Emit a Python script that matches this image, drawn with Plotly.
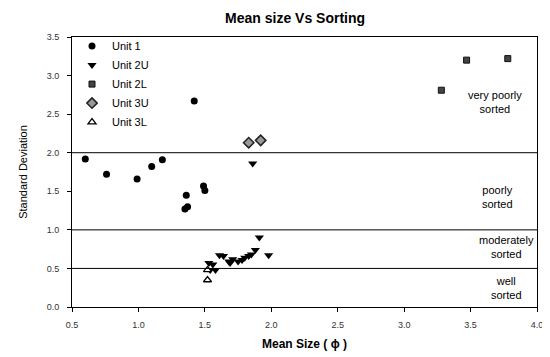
import plotly.graph_objects as go

# Data
unit1_x = [0.60, 0.76, 0.99, 1.10, 1.18, 1.42, 1.36, 1.35, 1.37, 1.49, 1.50]
unit1_y = [1.92, 1.72, 1.66, 1.82, 1.91, 2.67, 1.45, 1.27, 1.30, 1.57, 1.51]

unit2u_x = [1.53, 1.56, 1.58, 1.54, 1.61, 1.64, 1.68, 1.69, 1.71, 1.75, 1.78, 1.80, 1.83, 1.85, 1.88, 1.91, 1.98, 1.86]
unit2u_y = [0.57, 0.55, 0.48, 0.48, 0.67, 0.66, 0.59, 0.57, 0.62, 0.59, 0.61, 0.64, 0.66, 0.68, 0.74, 0.90, 0.67, 1.86]

unit2l_x = [3.28, 3.47, 3.78]
unit2l_y = [2.81, 3.20, 3.22]

unit3u_x = [1.83, 1.92]
unit3u_y = [2.13, 2.16]

unit3l_x = [1.52, 1.52]
unit3l_y = [0.48, 0.35]

class_limits = [0.5, 1.0, 2.0]
class_labels = ["very poorly<br>sorted", "poorly<br>sorted", "moderately<br>sorted", "well<br>sorted"]
class_label_y = [2.66, 1.43, 0.78, 0.25]
class_label_x = [0.91, 0.915, 0.935, 0.935]

fig = go.Figure()
fig.add_trace(go.Scatter(x=unit1_x, y=unit1_y, mode="markers", name="Unit 1",
                         marker=dict(symbol="circle", size=7, color="black")))
fig.add_trace(go.Scatter(x=unit2u_x, y=unit2u_y, mode="markers", name="Unit 2U",
                         marker=dict(symbol="triangle-down", size=8, color="black")))
fig.add_trace(go.Scatter(x=unit2l_x, y=unit2l_y, mode="markers", name="Unit 2L",
                         marker=dict(symbol="square", size=6, color="#444444",
                                     line=dict(color="#111111", width=1))))
fig.add_trace(go.Scatter(x=unit3u_x, y=unit3u_y, mode="markers", name="Unit 3U",
                         marker=dict(symbol="diamond", size=8, color="#999999",
                                     line=dict(color="#222222", width=1.5))))
fig.add_trace(go.Scatter(x=unit3l_x, y=unit3l_y, mode="markers", name="Unit 3L",
                         marker=dict(symbol="triangle-up", size=7, color="white",
                                     line=dict(color="black", width=1.3))))

for yv in class_limits:
    fig.add_shape(type="line", xref="paper", x0=0, x1=1, yref="y", y0=yv, y1=yv,
                  line=dict(color="black", width=1))

for lab, xv, yv in zip(class_labels, class_label_x, class_label_y):
    fig.add_annotation(x=xv, xref="paper", y=yv, yref="y", text=lab, showarrow=False,
                       font=dict(family="Liberation Sans, Arial", size=11, color="black"),
                       align="center", xanchor="center", yanchor="middle")

# the page body adds an 8px margin; margins below compensate for it
fig.update_layout(
    width=550, height=357,
    margin=dict(l=64, r=21, t=29, b=58),
    paper_bgcolor="white", plot_bgcolor="white",
    title=dict(text="<b>Mean size Vs Sorting</b>", x=0.522, xanchor="center", y=0.972, yanchor="middle",
               font=dict(family="Liberation Sans, Arial", size=14, color="black")),
    font=dict(family="Liberation Sans, Arial", color="black"),
    legend=dict(x=0.0, y=1.02, xanchor="left", yanchor="top", bgcolor="rgba(0,0,0,0)",
                font=dict(size=11, color="black"), tracegroupgap=0, itemsizing="trace"),
    showlegend=True,
)
fig.update_xaxes(range=[0.5, 4.0], dtick=0.5, tickformat=".1f", showgrid=False, zeroline=False,
                 showline=True, linecolor="black", linewidth=1, mirror=True,
                 ticks="outside", ticklen=4, tickcolor="black", ticklabelstandoff=5,
                 tickfont=dict(size=9, color="#333333"),
                 title=dict(text="<b>Mean Size ( ϕ )</b>", font=dict(size=12, color="black"), standoff=10))
fig.update_yaxes(range=[0, 3.5], dtick=0.5, tickformat=".1f", showgrid=False, zeroline=False,
                 showline=True, linecolor="black", linewidth=1, mirror=True,
                 ticks="outside", ticklen=4, tickcolor="black", ticklabelstandoff=6,
                 tickfont=dict(size=9, color="#333333"),
                 title=dict(text="Standard Deviation", font=dict(size=11, color="black"), standoff=16))

fig.write_html("out.html")
